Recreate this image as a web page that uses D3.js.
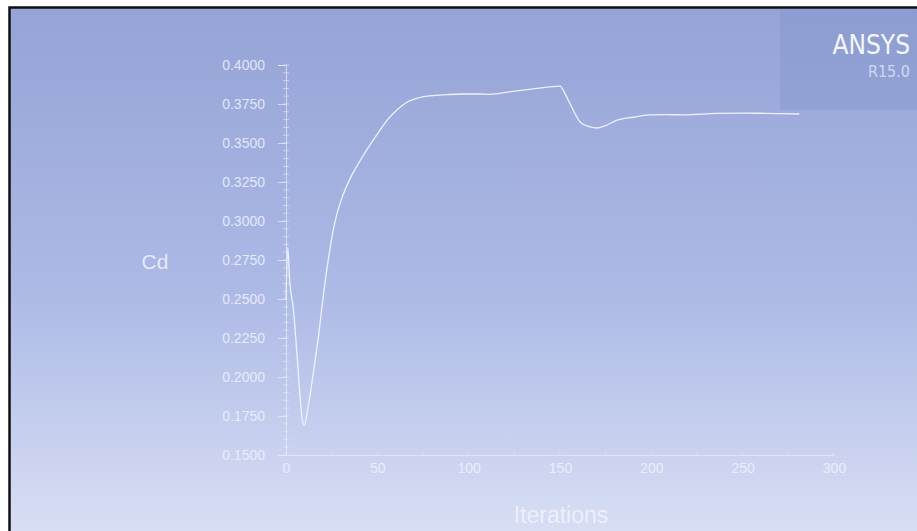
<!DOCTYPE html>
<html>
  <head>
    <meta charset="utf-8">
    <title>Cd history</title>
    <script src="https://cdn.jsdelivr.net/npm/d3@7"></script>
    <style>
body { margin: 0; background: #fff; }
.axis path, .axis line { stroke: #e6eaf8; stroke-opacity: 0.75; }
.minor line { stroke: #e6eaf8; stroke-opacity: 0.6; }
.cd { fill: none; stroke: #eef1fb; stroke-width: 1.3px; }
    </style>
  </head>
  <body>
    <script>

// values
var iterations = [0, 1, 2, 4, 6, 9, 10, 12, 15, 18, 20, 23, 26, 28, 31, 35, 40, 45, 51, 56, 61, 66, 72, 79, 88, 97, 105, 112, 122, 133, 142, 150, 153, 156, 161, 166, 170, 175, 181, 190, 199, 208, 217, 236, 250, 263, 272, 281];
var cd = [0.250, 0.283, 0.262, 0.244, 0.215, 0.172, 0.169, 0.180, 0.203, 0.228, 0.248, 0.274, 0.295, 0.305, 0.316, 0.327, 0.3375, 0.347, 0.3575, 0.3655, 0.3715, 0.376, 0.3788, 0.3803, 0.381, 0.3814, 0.3814, 0.3812, 0.3828, 0.3844, 0.3856, 0.3865, 0.381, 0.374, 0.3635, 0.3605, 0.3596, 0.3612, 0.3645, 0.3665, 0.368, 0.3682, 0.368, 0.369, 0.3692, 0.369, 0.3688, 0.3686];
var yTicks = [0.15, 0.175, 0.2, 0.225, 0.25, 0.275, 0.3, 0.325, 0.35, 0.375, 0.4];
var xTicks = [0, 50, 100, 150, 200, 250, 300];

var width = 917, height = 531;

var svg = d3.select("body").append("svg")
    .attr("width", width)
    .attr("height", height);

// background gradient
var defs = svg.append("defs");
var grad = defs.append("linearGradient").attr("id", "bg")
    .attr("x1", 0).attr("y1", 0).attr("x2", 0).attr("y2", 1);
grad.append("stop").attr("offset", "0%").attr("stop-color", "#95a3d6");
grad.append("stop").attr("offset", "55%").attr("stop-color", "#adbae6");
grad.append("stop").attr("offset", "100%").attr("stop-color", "#d8def4");

svg.append("rect").attr("x", 0).attr("y", 0).attr("width", width).attr("height", height).attr("fill", "#fff");
svg.append("rect").attr("x", 9).attr("y", 7).attr("width", width - 9).attr("height", height - 7)
    .attr("fill", "url(#bg)");
// frame
svg.append("path").attr("d", "M9.5," + height + "V7.5H" + width)
    .attr("fill", "none").attr("stroke", "#111").attr("stroke-width", 2.5);

// logo box
svg.append("rect").attr("x", 780).attr("y", 9).attr("width", width - 780).attr("height", 101)
    .attr("fill", "#8696cc").attr("fill-opacity", 0.45);
svg.append("text").attr("x", 910).attr("y", 54).attr("text-anchor", "end")
    .style("font-family", "'DejaVu Sans Condensed', 'DejaVu Sans', sans-serif").style("font-size", "26px")
    .style("font-weight", "500").style("font-stretch", "condensed")
    .attr("fill", "#f4f6fc").text("ANSYS");
svg.append("text").attr("x", 910).attr("y", 77).attr("text-anchor", "end")
    .style("font-family", "'DejaVu Sans Condensed', 'DejaVu Sans', sans-serif").style("font-size", "16px")
    .style("font-stretch", "condensed")
    .attr("fill", "#e2e7f7").attr("fill-opacity", 0.8).text("R15.0");

var x = d3.scaleLinear().domain([0, 300]).range([286, 834]);
var y = d3.scaleLinear().domain([0.15, 0.4]).range([455, 65]);

// minor ticks
var g = svg.append("g").attr("class", "minor");
g.selectAll(".my").data(d3.range(0.15, 0.4001, 0.005)).enter().append("line")
    .attr("x1", 283).attr("x2", 289)
    .attr("y1", function(d) { return y(d); }).attr("y2", function(d) { return y(d); });
g.selectAll(".mx").data(d3.range(0, 301, 25)).enter().append("line")
    .attr("x1", function(d) { return x(d); }).attr("x2", function(d) { return x(d); })
    .attr("y1", 452).attr("y2", 455);

function labelStyle(s, size) {
  s.selectAll(".tick text")
    .style("font-family", "'Liberation Sans', Arial, sans-serif")
    .style("font-size", size + "px")
    .attr("fill", "#f0f3fc").attr("fill-opacity", 0.85);
}

svg.append("g").attr("class", "axis")
    .attr("transform", "translate(286,0)")
    .call(d3.axisLeft(y).tickValues(yTicks).tickFormat(d3.format(".4f")).tickSize(8).tickPadding(13))
    .call(labelStyle, 14);

svg.append("g").attr("class", "axis")
    .attr("transform", "translate(0,455)")
    .call(d3.axisBottom(x).tickValues(xTicks).tickSize(0).tickPadding(8))
    .call(labelStyle, 14);

svg.append("text").attr("x", 155).attr("y", 269).attr("text-anchor", "middle")
    .style("font-family", "'Liberation Sans', Arial, sans-serif").style("font-size", "21px")
    .attr("fill", "#f2f4fc").attr("fill-opacity", 0.85).text("Cd");
svg.append("text").attr("x", 561).attr("y", 523).attr("text-anchor", "middle")
    .style("font-family", "'Liberation Sans', Arial, sans-serif").style("font-size", "23px")
    .attr("fill", "#f2f4fc").attr("fill-opacity", 0.85).text("Iterations");

var line = d3.line()
    .x(function(d, i) { return x(iterations[i]); })
    .y(function(d) { return y(d); })
    .curve(d3.curveMonotoneX);

svg.append("path").datum(cd).attr("class", "cd").attr("d", line);

</script>
  </body>
</html>
